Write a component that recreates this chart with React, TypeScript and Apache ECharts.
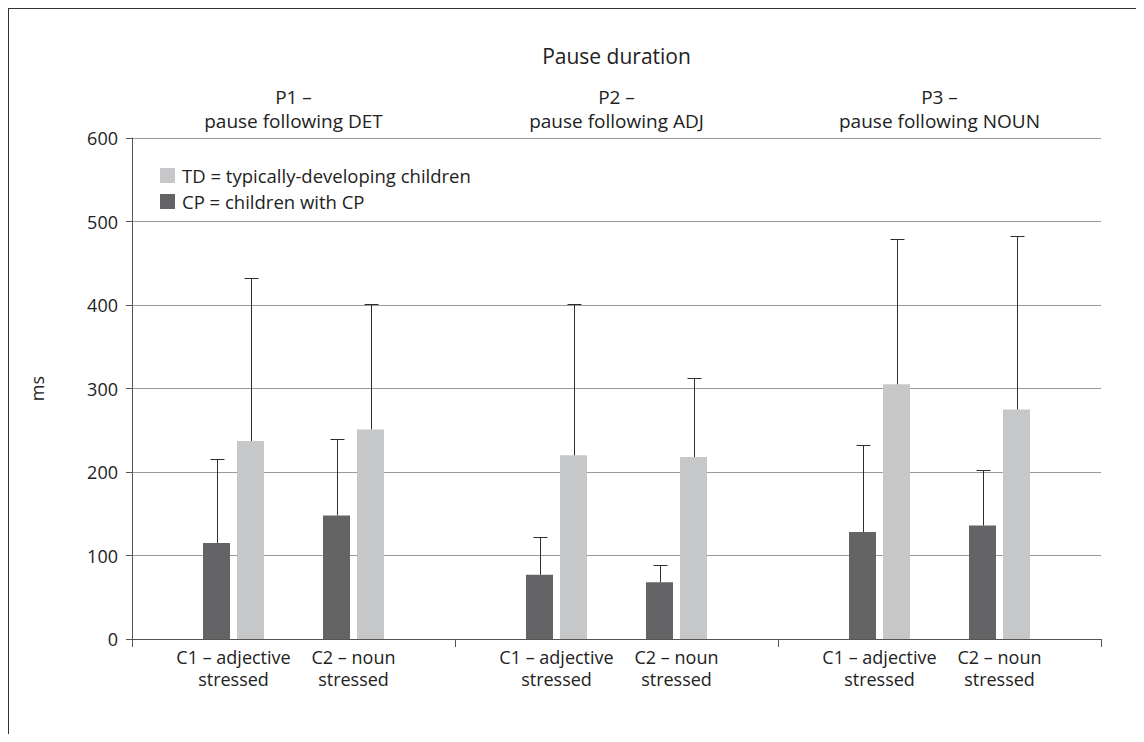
import React, { useEffect, useRef } from "react";
import * as echarts from "echarts";

// ---- data ----
const groups = ["P1 –\npause following DET", "P2 –\npause following ADJ", "P3 –\npause following NOUN"];
const conditionLabels = ["C1 – adjective\nstressed", "C2 – noun\nstressed"];
const tdName = "TD = typically-developing children";
const cpName = "CP = children with CP";

const cpC1 = [115, 77, 128];
const cpC1Err = [215, 122, 232];
const tdC1 = [237, 220, 305];
const tdC1Err = [432, 401, 479];
const cpC2 = [148, 68, 136];
const cpC2Err = [240, 89, 202];
const tdC2 = [251, 218, 275];
const tdC2Err = [401, 313, 483];

const yTicks = { min: 0, max: 600, interval: 100 };

// ---- layout constants ----
const FONT = "'Open Sans', 'Noto Sans', sans-serif";
const BAR_W = 27;
const GAP = 7;
const MID_GAP = 59;
const GAP_RATIO = GAP / BAR_W;
const SPACER_W = (MID_GAP - GAP) / (1 + GAP_RATIO);
const OFF_OUT = MID_GAP / 2 + GAP + BAR_W * 1.5;
const OFF_IN = MID_GAP / 2 + BAR_W / 2;
const DARK = "#646466";
const LIGHT = "#c6c7c9";
const TEXT = "#222";

function errData(means: number[], uppers: number[], off: number) {
  return means.map((m, i) => [i, m, uppers[i], off]);
}

export default function App() {
  const ref = useRef<HTMLDivElement>(null);
  useEffect(() => {
    if (!ref.current) return;
    const chart = echarts.init(ref.current, null, { renderer: "svg" });
    const barBase = {
      type: "bar",
      xAxisIndex: 0,
      barWidth: BAR_W,
      barGap: GAP_RATIO * 100 + "%",
    };
    const condLabel = (text: string) => ({
      show: true,
      position: "bottom",
      distance: 7,
      offset: [(BAR_W + GAP) / 2, 0],
      formatter: () => text,
      fontFamily: FONT,
      fontSize: 18,
      lineHeight: 22,
      color: TEXT,
      align: "center",
    });
    const option: any = {
      animation: false,
      textStyle: { fontFamily: FONT },
      title: {
        text: "Pause duration",
        left: 607.5,
        top: 36,
        padding: 0,
        textAlign: "center",
        textStyle: { fontFamily: FONT, fontSize: 21, fontWeight: "normal", color: TEXT },
      },
      legend: {
        data: [tdName, cpName],
        orient: "vertical",
        left: 151,
        top: 157,
        padding: 0,
        itemWidth: 15,
        itemHeight: 15,
        itemGap: 7,
        icon: "rect",
        selectedMode: false,
        textStyle: { fontFamily: FONT, fontSize: 18.5, lineHeight: 15, color: TEXT, padding: [0, 0, 0, 2] },
      },
      grid: { left: 123, right: 35, top: 129, bottom: 95 },
      xAxis: [
        {
          type: "category",
          data: groups,
          position: "bottom",
          axisLine: { lineStyle: { color: "#555", width: 1 } },
          axisTick: { show: true, length: 8, lineStyle: { color: "#555" } },
          axisLabel: { show: false },
        },
        {
          type: "category",
          data: groups,
          position: "top",
          axisLine: { show: false },
          axisTick: { show: false },
          axisLabel: {
            show: true,
            margin: 5,
            fontFamily: FONT,
            fontSize: 19,
            lineHeight: 24,
            color: TEXT,
          },
        },
      ],
      yAxis: {
        type: "value",
        min: yTicks.min,
        max: yTicks.max,
        interval: yTicks.interval,
        name: "ms",
        nameLocation: "middle",
        nameGap: 86,
        nameTextStyle: { fontFamily: FONT, fontSize: 18, color: TEXT },
        axisLine: { show: true, lineStyle: { color: "#555", width: 1 } },
        axisTick: { show: true, length: 6, lineStyle: { color: "#555" } },
        axisLabel: { margin: 14, fontFamily: FONT, fontSize: 18, color: TEXT },
        splitLine: { show: true, lineStyle: { color: "#9a9a9a", width: 1 } },
      },
      series: [
        { ...barBase, name: cpName, data: cpC1, itemStyle: { color: DARK }, label: condLabel(conditionLabels[0]) },
        { ...barBase, name: tdName, data: tdC1, itemStyle: { color: LIGHT } },
        {
          ...barBase,
          name: "spacer",
          barWidth: SPACER_W,
          data: [0, 0, 0],
          itemStyle: { color: "rgba(0,0,0,0)" },
          silent: true,
        },
        { ...barBase, name: cpName, data: cpC2, itemStyle: { color: DARK }, label: condLabel(conditionLabels[1]) },
        { ...barBase, name: tdName, data: tdC2, itemStyle: { color: LIGHT } },
        {
          type: "custom",
          name: "error",
          xAxisIndex: 0,
          silent: true,
          z: 5,
          clip: false,
          encode: { x: 0, y: 2 },
          data: [
            ...errData(cpC1, cpC1Err, -OFF_OUT),
            ...errData(tdC1, tdC1Err, -OFF_IN),
            ...errData(cpC2, cpC2Err, OFF_IN),
            ...errData(tdC2, tdC2Err, OFF_OUT),
          ],
          renderItem: (params: any, api: any) => {
            const cat = api.value(0);
            const base = api.coord([cat, api.value(1)]);
            const top = api.coord([cat, api.value(2)]);
            const x = Math.round(base[0] + api.value(3)) + 0.5;
            const yt = Math.round(top[1]) + 0.5;
            const style = { stroke: "#2e2e2e", lineWidth: 1 };
            return {
              type: "group",
              children: [
                { type: "line", shape: { x1: x, y1: base[1], x2: x, y2: yt }, style },
                { type: "line", shape: { x1: x - 7, y1: yt, x2: x + 7, y2: yt }, style },
              ],
            };
          },
        },
      ],
    };
    chart.setOption(option);
    return () => chart.dispose();
  }, []);
  return (
    <div
      style={{
        width: 1129,
        height: 726,
        borderTop: "1px solid #333",
        borderLeft: "1px solid #333",
        borderRight: "1px solid #333",
        boxSizing: "border-box",
        background: "#fff",
      }}
    >
      <div ref={ref} style={{ width: 1127, height: 725 }} />
    </div>
  );
}
